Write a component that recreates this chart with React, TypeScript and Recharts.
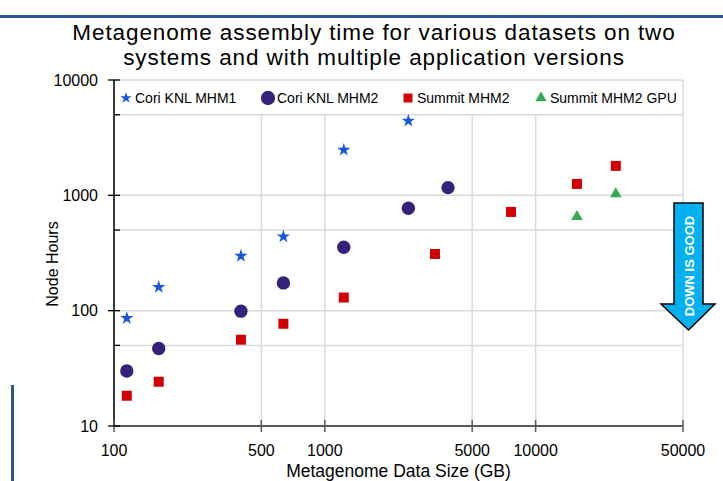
// log-log scatter of assembly node hours vs dataset size

import { ScatterChart, Scatter, XAxis, YAxis, CartesianGrid, Legend, Label, Symbols } from "recharts";

// dataset size (GB) and node hours, one pair of arrays per series
const coriMhm1Size = [115, 163, 400, 636, 1230, 2490];
const coriMhm1Hours = [86, 160, 298, 438, 2475, 4420];

const coriMhm2Size = [115, 163, 400, 636, 1230, 2490, 3840];
const coriMhm2Hours = [30, 47, 99, 174, 355, 773, 1166];

const summitMhm2Size = [115, 163, 400, 636, 1230, 3330, 7640, 15700, 24000];
const summitMhm2Hours = [18.3, 24.2, 56, 77, 130, 310, 718, 1256, 1800];

const summitGpuSize = [15700, 24000];
const summitGpuHours = [653, 1028];

const seriesNames = ["Cori KNL MHM1", "Cori KNL MHM2", "Summit MHM2", "Summit MHM2 GPU"];

const xTicks = [100, 500, 1000, 5000, 10000, 50000];
const yTicks = [10, 50, 100, 500, 1000, 5000, 10000];
const yLabelled = [10, 100, 1000, 10000];

const toPoints = (xs: number[], ys: number[]) => xs.map((x, i) => ({ x, y: ys[i] }));

const series = [
  { name: seriesNames[0], data: toPoints(coriMhm1Size, coriMhm1Hours), type: "star", color: "#1A56DB", size: 55, legendSize: 40 },
  { name: seriesNames[1], data: toPoints(coriMhm2Size, coriMhm2Hours), type: "circle", color: "#35207A", size: 140, legendSize: 160 },
  { name: seriesNames[2], data: toPoints(summitMhm2Size, summitMhm2Hours), type: "square", color: "#D00000", size: 100, legendSize: 80 },
  { name: seriesNames[3], data: toPoints(summitGpuSize, summitGpuHours), type: "triangle", color: "#35A853", size: 58, legendSize: 55 },
];

// legend icon centres, measured from the left edge of the legend box
const legendIconX = [11, 153, 293, 426];

const marker = (type: any, color: string, size: number) => (props: any) => (
  <Symbols cx={props.cx} cy={props.cy} type={type} size={size} sizeType="area" fill={color} />
);

// x ticks cross the axis line; labels sit below
const XTick = (props: any) => {
  const { x, y, payload } = props;
  const axisY = y - 10;
  return (
    <g>
      <line x1={x} x2={x} y1={axisY - 6} y2={axisY + 6} stroke="#595959" strokeWidth={1.5} />
      <text x={x} y={y} dy={20} textAnchor="middle" fill="#000" fontSize={16}>
        {payload.value}
      </text>
    </g>
  );
};

// major y ticks cross the axis with a label, minor ones point inward
const YTick = (props: any) => {
  const { x, y, payload } = props;
  const major = yLabelled.includes(payload.value);
  return (
    <g>
      <line x1={major ? x - 6 : x} x2={x + 6} y1={y} y2={y} stroke="#000" strokeWidth={1.3} />
      {major && (
        <text x={x - 16} y={y} dy={5.5} textAnchor="end" fill="#000" fontSize={16}>
          {payload.value}
        </text>
      )}
    </g>
  );
};

const renderLegend = () => (
  <div style={{ position: "relative", width: "100%", height: "100%" }}>
    {series.map((s, i) => (
      <div
        key={s.name}
        style={{
          position: "absolute",
          left: legendIconX[i] - 8,
          top: 0,
          height: 33,
          display: "flex",
          alignItems: "center",
          fontSize: 14,
          color: "#000",
          whiteSpace: "nowrap",
        }}
      >
        <svg width={16} height={16}>
          <Symbols cx={8} cy={8} type={s.type as any} size={s.legendSize} sizeType="area" fill={s.color} />
        </svg>
        <span style={{ marginLeft: 1 }}>{s.name}</span>
      </div>
    ))}
  </div>
);

const titleStyle = {
  position: "absolute" as const,
  left: 0,
  width: 748,
  textAlign: "center" as const,
  fontSize: 22.5,
  lineHeight: "25px",
  letterSpacing: 0.9,
  color: "#000",
  whiteSpace: "nowrap" as const,
};

export default function App() {
  return (
    <div
      style={{
        position: "absolute",
        left: 0,
        top: 0,
        width: 723,
        height: 481,
        background: "#fff",
        overflow: "hidden",
        fontFamily: "'Liberation Sans', Arial, sans-serif",
      }}
    >
      {/* slide frame lines */}
      <div style={{ position: "absolute", left: 0, top: 15, width: 723, height: 3, background: "#2F5597" }} />
      <div style={{ position: "absolute", left: 11, top: 385, width: 3, height: 96, background: "#2F5597" }} />

      <div style={{ ...titleStyle, top: 20 }}>Metagenome assembly time for various datasets on two</div>
      <div style={{ ...titleStyle, top: 45 }}>systems and with multiple application versions</div>

      <div style={{ position: "absolute", left: 0, top: 0 }}>
        <ScatterChart width={723} height={481} margin={{ top: 80, right: 40, bottom: 0, left: 0 }}>
          <CartesianGrid stroke="#d9d9d9" strokeWidth={1.5} />
          <XAxis
            type="number"
            dataKey="x"
            scale="log"
            domain={[100, 50000]}
            ticks={xTicks}
            allowDataOverflow
            height={55}
            tickSize={0}
            tickMargin={10}
            tickLine={false}
            stroke="#595959"
            strokeWidth={2}
            tick={<XTick />}
          >
            <Label value="Metagenome Data Size (GB)" position="insideBottom" offset={4} fill="#000" fontSize={17.5} />
          </XAxis>
          <YAxis
            type="number"
            dataKey="y"
            scale="log"
            domain={[10, 10000]}
            ticks={yTicks}
            allowDataOverflow
            width={114}
            tickSize={0}
            tickMargin={0}
            tickLine={false}
            stroke="#000"
            strokeWidth={1.5}
            tick={<YTick />}
          >
            <Label
              value="Node Hours"
              angle={-90}
              position="insideLeft"
              offset={52}
              dy={11}
              fill="#000"
              fontSize={16}
              style={{ textAnchor: "middle" }}
            />
          </YAxis>
          <Legend
            layout="horizontal"
            verticalAlign="middle"
            align="center"
            wrapperStyle={{ top: 81, left: 115, width: 567, height: 33, background: "#fff" }}
            content={renderLegend}
          />
          {series.map((s) => (
            <Scatter
              key={s.name}
              name={s.name}
              data={s.data}
              fill={s.color}
              legendType={s.type as any}
              shape={marker(s.type, s.color, s.size)}
              isAnimationActive={false}
            />
          ))}
        </ScatterChart>
      </div>

      {/* "down is good" callout arrow */}
      <svg width={723} height={481} style={{ position: "absolute", left: 0, top: 0, pointerEvents: "none" }}>
        <polygon
          points="674,203 703,203 703,304 715,304 688.5,330 661,304 674,304"
          fill="#00B0F0"
          stroke="#000"
          strokeWidth={1.5}
          strokeLinejoin="miter"
        />
        <text
          x={689}
          y={266}
          transform="rotate(-90 689 266)"
          textAnchor="middle"
          dominantBaseline="central"
          fill="#fff"
          fontSize={13}
          fontWeight="bold"
        >
          DOWN IS GOOD
        </text>
      </svg>
    </div>
  );
}
